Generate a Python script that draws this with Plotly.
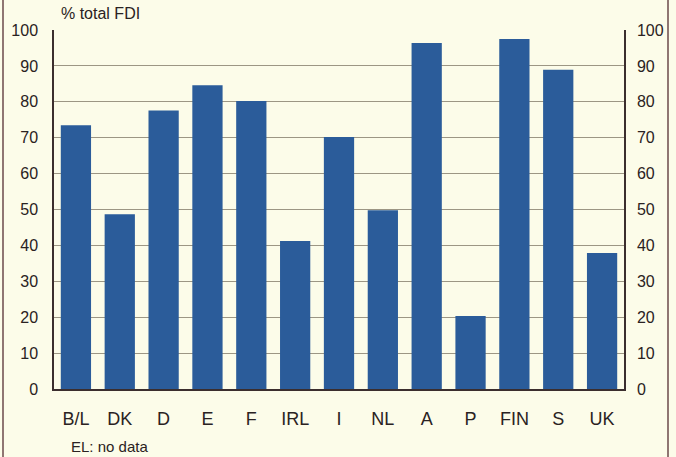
import plotly.graph_objects as go

# ---------- data ----------
countries = ['B/L', 'DK', 'D', 'E', 'F', 'IRL', 'I', 'NL', 'A', 'P', 'FIN', 'S', 'UK']
share_fdi = [73.5, 48.7, 77.6, 84.6, 80.2, 41.2, 70.2, 49.8, 96.4, 20.3, 97.5, 88.9, 37.9]
y_ticks = list(range(0, 101, 10))

BG = '#fcfce9'
BAR = '#2b5c9a'
GRID = '#9c9684'
AXIS = '#3b2e2e'
TXT = '#2a2222'
FONT = 'Liberation Sans, Arial, sans-serif'

fig = go.Figure()
fig.add_trace(go.Bar(x=countries, y=share_fdi, marker=dict(color=BAR, line=dict(width=0)),
                     showlegend=False))
# invisible copy on the right axis so its ticks show
fig.add_trace(go.Scatter(x=countries, y=share_fdi, yaxis='y2', mode='markers',
                         marker=dict(opacity=0), showlegend=False, hoverinfo='skip'))

fig.update_layout(
    width=676, height=457,
    margin=dict(l=54, r=52, t=30, b=68),
    paper_bgcolor=BG, plot_bgcolor=BG,
    font=dict(family=FONT, size=16, color=TXT),
    bargap=0.31,
    xaxis=dict(range=[-0.5, len(countries) - 0.5], showgrid=False, showline=True,
               linecolor=AXIS, linewidth=1.5, ticks='', tickfont=dict(size=18),
               ticklabelstandoff=13),
    yaxis=dict(range=[0, 100], tickvals=y_ticks, showgrid=True, gridcolor=GRID,
               gridwidth=1, showline=True, linecolor=AXIS, linewidth=1.5,
               ticks='', zeroline=False, ticklabelstandoff=11, automargin=False),
    yaxis2=dict(range=[0, 100], tickvals=y_ticks, overlaying='y', side='right',
                showgrid=False, showline=True, linecolor=AXIS, linewidth=1.5,
                ticks='', zeroline=False, ticklabelstandoff=8, automargin=False),
)

fig.add_annotation(text='% total FDI', xref='paper', yref='paper', x=0.008, y=1.045,
                   xanchor='left', yanchor='middle', showarrow=False, font=dict(size=16))
fig.add_annotation(text='EL: no data', xref='paper', yref='paper', x=0.026, y=-0.159,
                   xanchor='left', yanchor='middle', showarrow=False, font=dict(size=15))

# outer frame lines (left and right)
for xp in [-51 / 570, 614 / 570]:
    fig.add_shape(type='line', xref='paper', yref='paper', x0=xp, x1=xp, y0=-68 / 359,
                  y1=30 / 359 + 1, line=dict(color='#6b4a4a', width=1.5))

fig.write_html('out.html', config={'displayModeBar': False},
               post_script="document.body.style.margin='0';"
               "document.body.style.overflow='hidden';")
